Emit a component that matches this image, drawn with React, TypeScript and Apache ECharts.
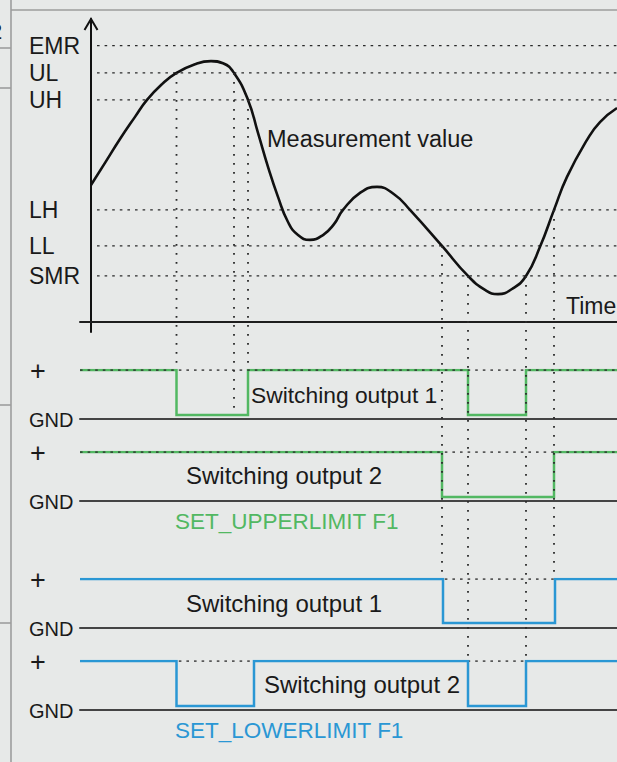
import React, { useEffect, useRef } from 'react';
import * as echarts from 'echarts';

// ---------- data ----------
const levelNames = ['EMR', 'UL', 'UH', 'LH', 'LL', 'SMR'];
const levelValues = [91.2, 82.2, 73.3, 37.0, 25.1, 15.2];

const curveTime = [0, 14, 29, 44, 56, 71, 85.5, 104, 120, 132, 143, 157, 167, 177, 187, 197, 207, 219, 232, 243, 252, 269, 286, 304, 319, 351, 377, 394, 407, 421, 435, 449, 463, 476, 496, 509, 526];
const curveValue = [45.2, 52.5, 60.4, 67.7, 73.3, 78.5, 82.2, 85.1, 86.1, 85.4, 82.2, 73.3, 62.4, 51.2, 41.3, 33.0, 28.7, 27.1, 28.7, 32.3, 37.0, 42.6, 44.6, 41.9, 37.0, 25.1, 15.2, 10.6, 9.2, 10.9, 15.2, 24.8, 37.0, 47.9, 60.1, 66.0, 70.6];

const outputNames = ['Switching output 1', 'Switching output 2', 'Switching output 1', 'Switching output 2'];
const groupNames = ['SET_UPPERLIMIT F1', 'SET_LOWERLIMIT F1'];
// intervals (time) where each output is switched to GND
const upperOut1Off = [[85.5, 157], [377, 435]];
const upperOut2Off = [[351, 463]];
const lowerOut1Off = [[352, 464]];
const lowerOut2Off = [[85.5, 163], [377, 435]];
const outputsOff = [upperOut1Off, upperOut2Off, lowerOut1Off, lowerOut2Off];
const lowLevel = [0.08, 0.08, 0.1, 0.08];

// dotted guide lines from level crossings down to the outputs
const guides = [
  { t: 85.5, level: 'UL', row: 0, to: 1 },
  { t: 143, level: 'UL', row: 0, to: 0.14 },
  { t: 157, level: 'UH', row: 0, to: 1 },
  { t: 351, level: 'LL', row: 2, to: 1 },
  { t: 377, level: 'SMR', row: 3, to: 1 },
  { t: 435, level: 'SMR', row: 3, to: 1 },
  { t: 463, level: 'LH', row: 2, to: 1 },
];

// ---------- styles ----------
const FONT = "'Liberation Sans', Arial, Helvetica, sans-serif";
const BG = '#e7e9e8';
const GREEN = '#52b862';
const BLUE = '#2a97d4';
const INK = '#1a1a1a';
const T_MIN = -11;
const T_MAX = 526;
const LEVEL_START = 6;
const rowTops = [370, 452, 579, 661];
const rowHeight = 49;
const rowColors = [GREEN, GREEN, BLUE, BLUE];

function signalData(off: number[][], low: number) {
  const d: number[][] = [[T_MIN, 1]];
  off.forEach(([a, b]) => {
    d.push([a, 1], [a, low], [b, low], [b, 1]);
  });
  d.push([T_MAX, 1]);
  return d;
}

function buildOption() {
  const grids: any[] = [{ left: 80, top: 19, width: 537, height: 313 }];
  rowTops.forEach((top) => grids.push({ left: 80, top, width: 537, height: rowHeight }));

  const xAxes: any[] = grids.map((_, i) => ({
    type: 'value',
    gridIndex: i,
    min: T_MIN,
    max: T_MAX,
    axisLine: {
      show: true,
      onZero: true,
      lineStyle: { color: i === 0 ? '#1e1e1e' : '#444', width: 2 },
    },
    axisTick: { show: false },
    axisLabel: { show: false },
    splitLine: { show: false },
  }));
  const yAxes: any[] = grids.map((_, i) =>
    i === 0
      ? {
          type: 'value',
          gridIndex: 0,
          min: -3.3,
          max: 100,
          axisLine: { show: true, onZero: true, lineStyle: { color: '#111', width: 2 } },
          axisTick: { show: false },
          axisLabel: { show: false },
          splitLine: { show: false },
        }
      : {
          type: 'value',
          gridIndex: i,
          min: 0,
          max: 1,
          show: false,
          splitLine: { show: false },
        }
  );

  const series: any[] = [];
  levelValues.forEach((v, i) => {
    series.push({
      type: 'line',
      name: levelNames[i],
      xAxisIndex: 0,
      yAxisIndex: 0,
      data: [[LEVEL_START, v], [T_MAX, v]],
      symbol: 'none',
      silent: true,
      lineStyle: { color: '#2a2a2a', width: 1.3, type: [2.6, 5] },
      z: 1,
    });
  });
  series.push({
    type: 'line',
    name: 'Measurement value',
    xAxisIndex: 0,
    yAxisIndex: 0,
    data: curveTime.map((t, i) => [t, curveValue[i]]),
    smooth: 0.5,
    symbol: 'none',
    lineStyle: { color: '#111', width: 2.6 },
    z: 4,
  });
  outputsOff.forEach((off, r) => {
    const isGreen = r < 2;
    series.push({
      type: 'line',
      name: outputNames[r] + ' +',
      xAxisIndex: r + 1,
      yAxisIndex: r + 1,
      data: [[T_MIN, 1], [T_MAX, 1]],
      symbol: 'none',
      lineStyle: { color: '#2a2a2a', width: 1.3, type: [2.6, 5] },
      z: isGreen ? 4 : 2,
    });
    series.push({
      type: 'line',
      name: outputNames[r],
      xAxisIndex: r + 1,
      yAxisIndex: r + 1,
      data: signalData(off, lowLevel[r]),
      symbol: 'none',
      lineStyle: { color: rowColors[r], width: 2.5, join: 'miter', cap: 'butt' },
      z: 3,
    });
  });

  return {
    animation: false,
    backgroundColor: BG,
    grid: grids,
    xAxis: xAxes,
    yAxis: yAxes,
    series,
  };
}

function txt(text: string, x: number, y: number, size: number, color = INK, align = 'left'): any {
  return {
    type: 'text',
    x,
    y,
    z: 20,
    silent: true,
    style: {
      text,
      fill: color,
      fontSize: size,
      fontFamily: FONT,
      align,
      verticalAlign: 'middle',
      textAlign: align,
      textVerticalAlign: 'middle',
    },
  };
}

function line(x1: number, y1: number, x2: number, y2: number, stroke: string, lineWidth: number, lineDash?: number[]): any {
  return {
    type: 'line',
    z: 15,
    silent: true,
    shape: { x1, y1, x2, y2 },
    style: { stroke, lineWidth, lineDash },
  };
}

function buildGraphics(chart: any) {
  const g: any[] = [];
  const BORDER = '#9d9d9d';
  // table frame
  g.push(line(11, 0, 11, 762, BORDER, 1.6));
  g.push(line(11, 10, 617, 10, BORDER, 1.6));
  [48, 88, 405, 623].forEach((y) => g.push(line(0, y, 11, y, BORDER, 1.6)));
  g.push(txt('2', -10, 31, 22));

  // y axis arrow head
  const top = chart.convertToPixel({ gridIndex: 0 }, [0, 100]);
  g.push({
    type: 'polyline',
    z: 16,
    silent: true,
    shape: { points: [[top[0] - 6.5, top[1] + 11], [top[0], top[1]], [top[0] + 6.5, top[1] + 11]] },
    style: { stroke: '#111', lineWidth: 2, fill: 'none' },
  });

  // level labels
  levelValues.forEach((v, i) => {
    const p = chart.convertToPixel({ gridIndex: 0 }, [0, v]);
    g.push(txt(levelNames[i], 29, p[1] + 0.5, 23));
  });
  g.push(txt('Measurement value', 267, 139, 23.5));
  g.push(txt('Time', 566, 306, 23));

  // guides
  guides.forEach((gd) => {
    const li = levelNames.indexOf(gd.level);
    const a = chart.convertToPixel({ gridIndex: 0 }, [gd.t, levelValues[li]]);
    const b = chart.convertToPixel({ gridIndex: gd.row + 1 }, [gd.t, gd.to]);
    g.push(line(a[0], a[1], b[0], b[1], '#2a2a2a', 1.8, [1.8, 7.2]));
  });

  // row labels
  rowTops.forEach((_, r) => {
    const plus = chart.convertToPixel({ gridIndex: r + 1 }, [T_MIN, 1]);
    const gnd = chart.convertToPixel({ gridIndex: r + 1 }, [T_MIN, 0]);
    g.push(txt('+', 30, plus[1] + 1, 27));
    g.push(txt('GND', 29, gnd[1] + 0.5, 20));
  });

  g.push(txt(outputNames[0], 251, 395, 22.8));
  g.push(txt(outputNames[1], 186, 475, 24));
  g.push(txt(groupNames[0], 175, 521, 22.5, GREEN));
  g.push(txt(outputNames[2], 186, 603, 24));
  g.push(txt(outputNames[3], 264, 684, 24));
  g.push(txt(groupNames[1], 175, 730, 22.5, BLUE));
  return g;
}

export default function App() {
  const ref = useRef<HTMLDivElement>(null);
  useEffect(() => {
    document.body.style.margin = '0';
    const chart = echarts.init(ref.current!, null, { renderer: 'svg' });
    chart.setOption(buildOption());
    chart.setOption({ graphic: buildGraphics(chart) });
    return () => chart.dispose();
  }, []);
  return <div ref={ref} style={{ width: 617, height: 762 }} />;
}
